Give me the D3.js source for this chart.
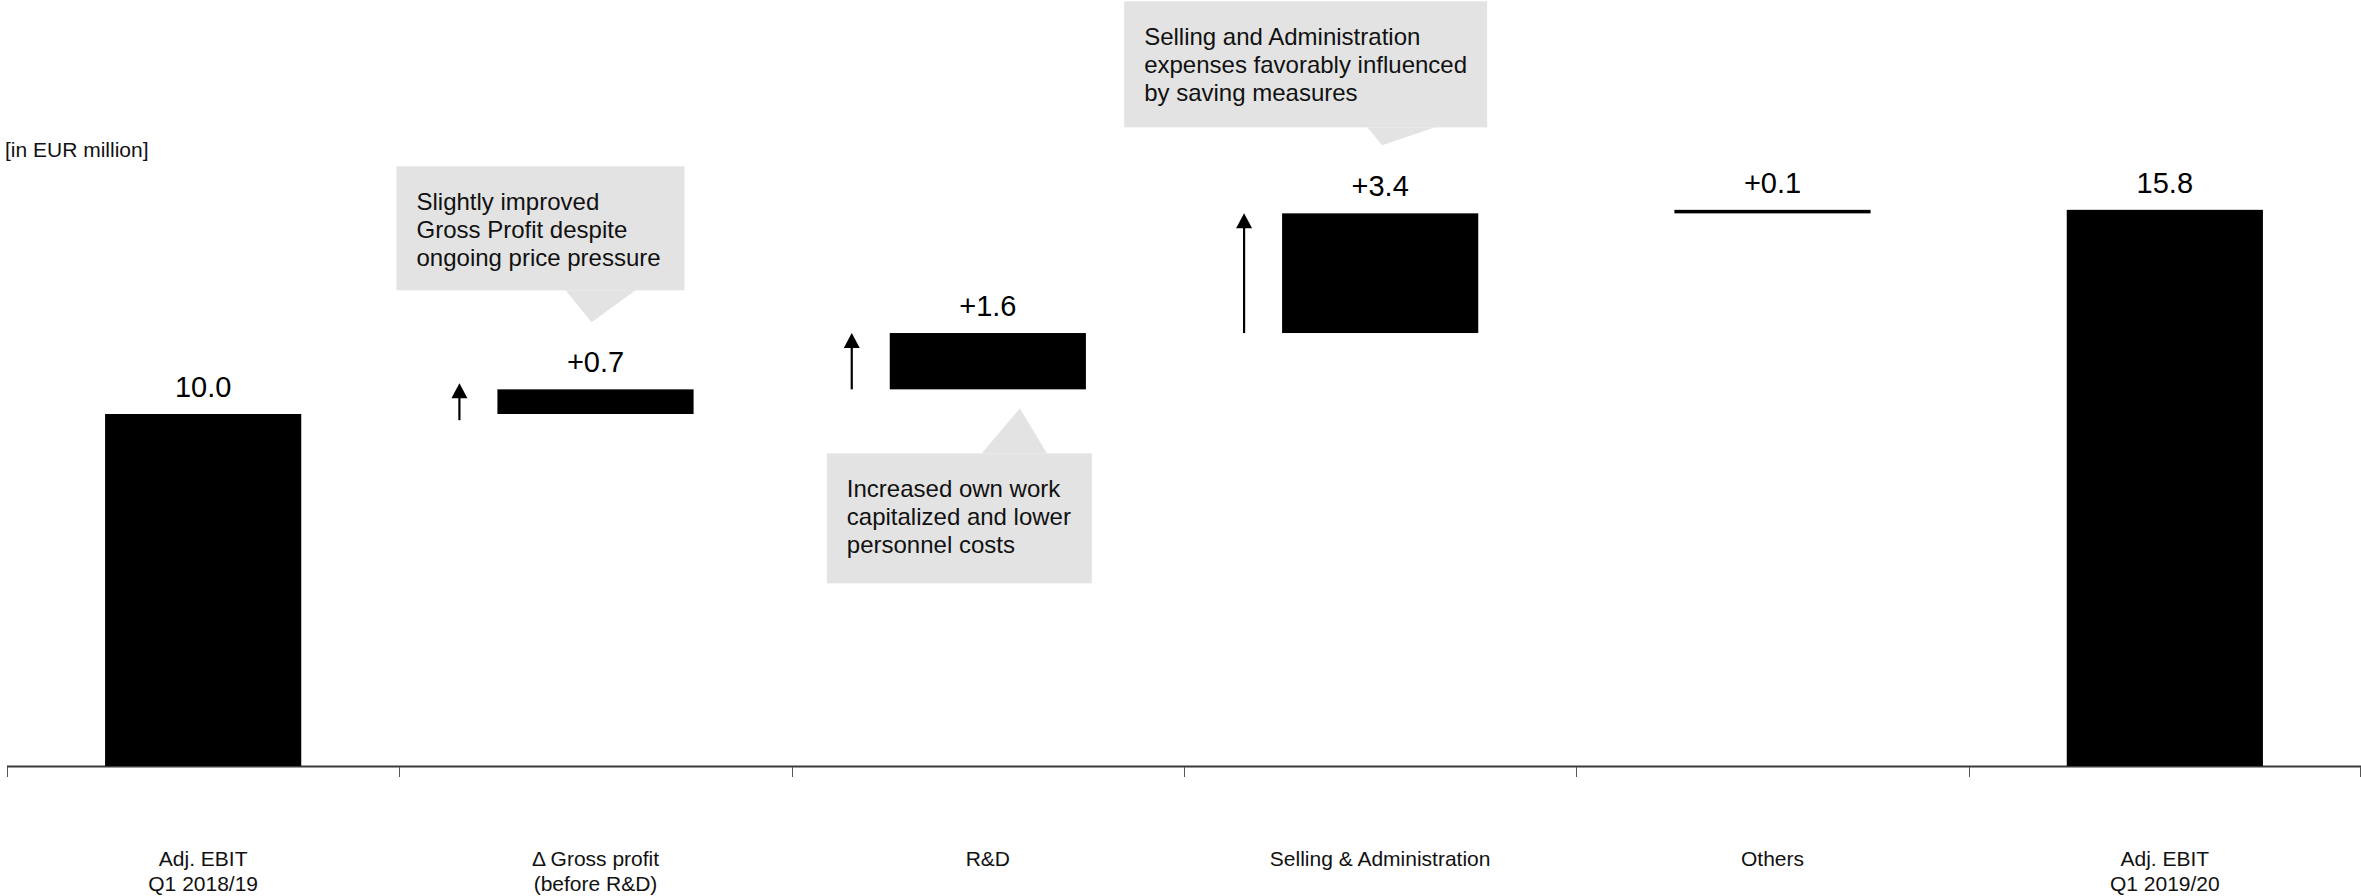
<!DOCTYPE html>
<html>
<head>
<meta charset="utf-8">
<script src="https://cdn.jsdelivr.net/npm/d3@7"></script>
<style>
  html, body { margin: 0; padding: 0; background: #ffffff; }
  svg { display: block; font-family: "Liberation Sans", Arial, Helvetica, sans-serif; }
</style>
</head>
<body>
<svg id="chart" width="2361" height="896"></svg>
<script>
// ---- data -------------------------------------------------------------
const categories = ["ebitPrev", "grossProfit", "rnd", "sellingAdmin", "others", "ebitCurr"];
const categoryLabels = [
  ["Adj. EBIT", "Q1 2018/19"],
  ["\u0394 Gross profit", "(before R&D)"],
  ["R&D"],
  ["Selling & Administration"],
  ["Others"],
  ["Adj. EBIT", "Q1 2019/20"]
];
const barValues = [10.0, 0.7, 1.6, 3.4, 0.1, 15.8];
const barKinds = ["total", "delta", "delta", "delta", "delta", "total"];
const valueLabels = ["10.0", "+0.7", "+1.6", "+3.4", "+0.1", "15.8"];
const unitLabel = "[in EUR million]";

const noteCategories = ["grossProfit", "rnd", "sellingAdmin"];
const noteTexts = [
  ["Slightly improved", "Gross Profit despite", "ongoing price pressure"],
  ["Increased own work", "capitalized and lower", "personnel costs"],
  ["Selling and Administration", "expenses favorably influenced", "by saving measures"]
];
const arrowCategories = ["grossProfit", "rnd", "sellingAdmin"];

// ---- layout -----------------------------------------------------------
const W = 2361, H = 896;
const baseY = 766;
const pxPerUnit = 35.2;
const yMax = 16;

// speech-bubble geometry per note: side of the bar, tip offset, pointer and box sizes
const noteLayout = [
  { side: "above", tipDx: -4, tipGap: 67, ptr: 32, ptrBase: [-26, 44], box: [-195, 93], h: 124 },
  { side: "below", tipDx: 32, tipGap: 19, ptr: 45, ptrBase: [-38, 27], box: [-193, 72], h: 130 },
  { side: "above", tipDx: 2, tipGap: 68, ptr: 18, ptrBase: [-15, 53], box: [-258, 105], h: 126 }
];

const svg = d3.select("#chart");

const x = d3.scaleBand()
  .domain(categories)
  .range([7, W])
  .paddingInner(0)
  .paddingOuter(0);

const y = d3.scaleLinear()
  .domain([0, yMax])
  .range([baseY, baseY - yMax * pxPerUnit]);

const barW = x.bandwidth() * 0.5;

// waterfall segments: totals start at zero, deltas stack on the running total
let running = 0;
const bars = categories.map((c, i) => {
  let start, end;
  if (barKinds[i] === "total") { start = 0; end = barValues[i]; running = barValues[i]; }
  else { start = running; end = running + barValues[i]; running = end; }
  return { key: c, start, end, label: valueLabels[i], cx: x(c) + x.bandwidth() / 2 };
});
const byKey = Object.fromEntries(bars.map(b => [b.key, b]));

// ---- axis -------------------------------------------------------------
const axisG = svg.append("g");
axisG.append("line")
  .attr("x1", x.range()[0]).attr("x2", x.range()[1])
  .attr("y1", baseY + 0.5).attr("y2", baseY + 0.5)
  .attr("stroke", "#3a3a3a").attr("stroke-width", 2);

const tickXs = categories.map(c => x(c)).concat([x.range()[1] - 1]);
axisG.selectAll("line.tick").data(tickXs).join("line")
  .attr("class", "tick")
  .attr("x1", d => Math.round(d) + 0.5).attr("x2", d => Math.round(d) + 0.5)
  .attr("y1", baseY + 1).attr("y2", baseY + 11)
  .attr("stroke", "#555").attr("stroke-width", 1);

const catText = axisG.selectAll("text.cat").data(categories).join("text")
  .attr("class", "cat")
  .attr("x", d => x(d) + x.bandwidth() / 2)
  .attr("y", 866)
  .attr("text-anchor", "middle")
  .attr("font-size", 21)
  .attr("fill", "#111");
catText.each(function (d, i) {
  const t = d3.select(this);
  categoryLabels[i].forEach((line, j) => {
    t.append("tspan")
      .attr("x", x(d) + x.bandwidth() / 2)
      .attr("dy", j === 0 ? 0 : 25)
      .text(line);
  });
});

// ---- bars -------------------------------------------------------------
svg.append("g").selectAll("rect").data(bars).join("rect")
  .attr("x", d => d.cx - barW / 2)
  .attr("width", barW)
  .attr("y", d => y(d.end))
  .attr("height", d => Math.max(y(d.start) - y(d.end), 1))
  .attr("fill", "#000");

svg.append("g").selectAll("text").data(bars).join("text")
  .attr("x", d => d.cx)
  .attr("y", d => y(d.end) - 17)
  .attr("text-anchor", "middle")
  .attr("font-size", 29)
  .attr("fill", "#000")
  .text(d => d.label);

// ---- up arrows beside the increases ------------------------------------
const arrowMin = 37;
const arrowG = svg.append("g");
arrowCategories.forEach(k => {
  const b = byKey[k];
  const y0 = y(b.start), y1 = y(b.end);
  const pad = Math.max(0, (arrowMin - (y0 - y1)) / 2);
  const ax = b.cx - barW / 2 - 38;
  const top = y1 - pad, bottom = y0 + pad;
  arrowG.append("line")
    .attr("x1", ax).attr("x2", ax)
    .attr("y1", top + 12).attr("y2", bottom)
    .attr("stroke", "#000").attr("stroke-width", 2.2);
  arrowG.append("path")
    .attr("d", `M${ax},${top} L${ax + 8},${top + 15} L${ax - 8},${top + 15} Z`)
    .attr("fill", "#000");
});

// ---- speech-bubble notes ----------------------------------------------
const noteG = svg.append("g");
noteCategories.forEach((k, i) => {
  const b = byKey[k];
  const L = noteLayout[i];
  const tipX = b.cx + L.tipDx;
  let tipY, baseYb, boxTop;
  if (L.side === "above") {
    tipY = y(b.end) - L.tipGap;
    baseYb = tipY - L.ptr;
    boxTop = baseYb - L.h;
  } else {
    tipY = y(b.start) + L.tipGap;
    baseYb = tipY + L.ptr;
    boxTop = baseYb;
  }
  const boxL = tipX + L.box[0], boxR = tipX + L.box[1];
  noteG.append("rect")
    .attr("x", boxL).attr("y", boxTop)
    .attr("width", boxR - boxL).attr("height", L.h)
    .attr("fill", "#e3e3e3");
  noteG.append("path")
    .attr("d", `M${tipX + L.ptrBase[0]},${baseYb} L${tipX},${tipY} L${tipX + L.ptrBase[1]},${baseYb} Z`)
    .attr("fill", "#e3e3e3");
  const t = noteG.append("text")
    .attr("x", boxL + 20).attr("y", boxTop + 44)
    .attr("font-size", 24).attr("fill", "#111");
  noteTexts[i].forEach((line, j) => {
    t.append("tspan").attr("x", boxL + 20).attr("dy", j === 0 ? 0 : 27.7).text(line);
  });
});

// ---- unit caption ------------------------------------------------------
svg.append("text")
  .attr("x", 5).attr("y", 157)
  .attr("font-size", 21).attr("fill", "#111")
  .text(unitLabel);
</script>
</body>
</html>
